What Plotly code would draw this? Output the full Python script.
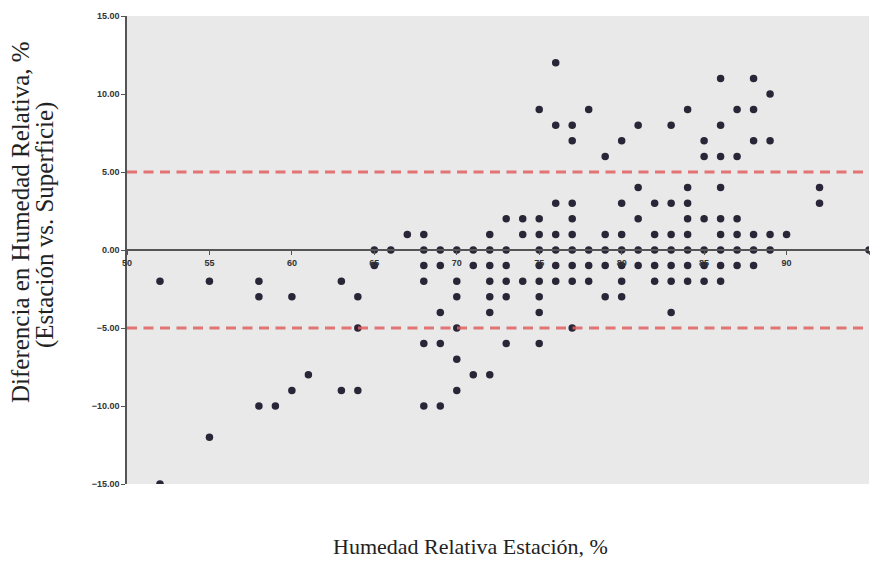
import plotly.graph_objects as go

# Data: station relative humidity (x) vs difference station - surface (y)
columns = {
    52: [-2, -15],
    55: [-2, -12],
    58: [-2, -3, -10],
    59: [-10],
    60: [-3, -9],
    61: [-8],
    63: [-2, -9],
    64: [-3, -5, -9],
    65: [0, -1],
    66: [0],
    67: [1],
    68: [1, 0, -1, -2, -6, -10],
    69: [0, -1, -4, -6, -10],
    70: [0, -2, -3, -5, -7, -9],
    71: [0, -1, -8],
    72: [1, 0, -1, -2, -3, -4, -8],
    73: [2, 0, -1, -2, -3, -6],
    74: [2, 1, -2],
    75: [9, 2, 1, 0, -1, -2, -3, -4, -6],
    76: [12, 8, 3, 1, 0, -1, -2],
    77: [8, 7, 3, 2, 1, 0, -1, -2, -5],
    78: [9, 0, -1, -2],
    79: [6, 1, 0, -1, -3],
    80: [7, 3, 1, 0, -1, -2, -3],
    81: [8, 4, 2, 0, -1],
    82: [3, 1, 0, -1, -2],
    83: [8, 3, 1, 0, -1, -2, -4],
    84: [9, 4, 3, 2, 1, 0, -1, -2],
    85: [7, 6, 2, 0, -1, -2],
    86: [11, 8, 6, 4, 2, 1, 0, -1, -2],
    87: [9, 6, 2, 1, 0, -1],
    88: [11, 9, 7, 1, 0, -1],
    89: [10, 7, 1, 0],
    90: [1],
    92: [4, 3],
    95: [0],
}
hr_station = [x for x, ys in columns.items() for _ in ys]
hr_diff = [y for ys in columns.values() for y in ys]

x_ticks = [50, 55, 60, 65, 70, 75, 80, 85, 90, 95]
y_ticks = [-15, -10, -5, 0, 5, 10, 15]
limits = [5, -5]
x_range = [50, 95]

y_title_1 = "Diferencia en Humedad Relativa, %"
y_title_2 = "(Estación vs. Superficie)"
x_title = "Humedad Relativa Estación, %"

fig = go.Figure()

for lim in limits:
    fig.add_trace(go.Scatter(
        x=x_range, y=[lim, lim], mode="lines", xaxis="x2",
        line=dict(color="rgba(225,95,95,0.85)", width=3, dash="10px,6.5px"),
        hoverinfo="skip", showlegend=False))

fig.add_trace(go.Scatter(
    x=hr_station, y=hr_diff, mode="markers",
    marker=dict(size=7.5, color="#2a2638"),
    showlegend=False))

tick_font = dict(family="Liberation Sans", size=9, color="#333", weight="bold")
title_font = dict(family="Liberation Serif", size=25, color="#222")

fig.update_layout(
    width=872, height=564,
    margin=dict(l=127, r=3, t=16, b=80),
    paper_bgcolor="white",
    plot_bgcolor="#e9e9e9",
    font=dict(family="Liberation Serif", color="#222"),
    xaxis=dict(
        range=x_range, showgrid=False, zeroline=False, showline=False,
        showticklabels=False, ticks="",
    ),
    xaxis2=dict(
        range=x_range, overlaying="x", anchor="free", position=0.5,
        side="bottom",
        tickvals=x_ticks, ticktext=[str(v) for v in x_ticks],
        showgrid=False, zeroline=False, showline=True,
        linecolor="#555", linewidth=1.5,
        ticks="outside", ticklen=4, tickcolor="#555",
        tickfont=tick_font,
    ),
    yaxis=dict(
        range=[-15, 15], tickvals=y_ticks, tickformat=".2f",
        showgrid=False, zeroline=False, showline=True,
        linecolor="#555", linewidth=1.5,
        ticks="outside", ticklen=4, tickcolor="#555",
        tickfont=tick_font,
    ),
    annotations=[
        dict(text=y_title_1, textangle=-90, xref="paper", yref="paper",
             x=(20 - 127) / 742, y=(484 - 222) / 468, xanchor="center", yanchor="middle",
             showarrow=False, font=title_font),
        dict(text=y_title_2, textangle=-90, xref="paper", yref="paper",
             x=(45 - 127) / 742, y=(484 - 225) / 468, xanchor="center", yanchor="middle",
             showarrow=False, font=title_font),
        dict(text=x_title, xref="paper", yref="paper",
             x=(470 - 127) / 742, y=(484 - 546) / 468, xanchor="center", yanchor="middle",
             showarrow=False, font=dict(family="Liberation Serif", size=22, color="#222")),
    ],
)

fig.write_html("out.html")
